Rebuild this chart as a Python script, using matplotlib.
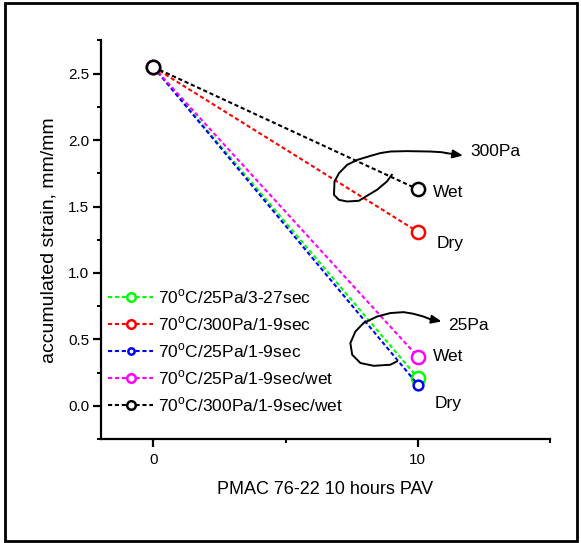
import matplotlib
matplotlib.use("Agg")
import matplotlib.pyplot as plt
from matplotlib.patches import Rectangle

plt.rcParams['font.family'] = ['Liberation Sans', 'DejaVu Sans']
plt.rcParams['mathtext.fontset'] = 'custom'
plt.rcParams['mathtext.rm'] = 'Liberation Sans'

# data
hours = [0, 10]
s_25pa_3_27 = [2.55, 0.21]
s_300pa_1_9 = [2.55, 1.31]
s_25pa_1_9 = [2.55, 0.16]
s_25pa_1_9_wet = [2.55, 0.37]
s_300pa_1_9_wet = [2.55, 1.63]

labels = ['70$^\\mathrm{o}$C/25Pa/3-27sec',
          '70$^\\mathrm{o}$C/300Pa/1-9sec',
          '70$^\\mathrm{o}$C/25Pa/1-9sec',
          '70$^\\mathrm{o}$C/25Pa/1-9sec/wet',
          '70$^\\mathrm{o}$C/300Pa/1-9sec/wet']
colors = ['#00ff00', '#ff0000', '#0000ff', '#ff00ff', '#000000']
series = [s_25pa_3_27, s_300pa_1_9, s_25pa_1_9, s_25pa_1_9_wet, s_300pa_1_9_wet]
msizes = [9.5, 9.5, 7, 9.5, 9.5]

# hand-drawn loops (data coords)
loop300_x = [9.02, 8.83, 8.46, 8.08, 7.77, 7.33, 7.02, 6.83, 6.85, 7.02, 7.33,
             7.71, 8.21, 8.58, 8.96, 9.59, 10.46, 10.90, 11.09]
loop300_y = [1.739, 1.688, 1.626, 1.581, 1.543, 1.538, 1.550, 1.588, 1.688, 1.751,
             1.814, 1.851, 1.881, 1.902, 1.914, 1.917, 1.914, 1.909, 1.902]
loop25_x = [9.21, 8.96, 8.33, 7.83, 7.52, 7.45, 7.64, 7.95, 8.46, 8.96, 9.46,
            9.83, 10.21, 10.46]
loop25_y = [0.334, 0.309, 0.301, 0.322, 0.384, 0.472, 0.559, 0.623, 0.672, 0.698,
            0.705, 0.693, 0.672, 0.653]
tip300 = (11.71, 1.884)
tip25 = (10.90, 0.635)

notes = [('300Pa', 11.98, 1.914), ('Wet', 10.56, 1.603), ('Dry', 10.71, 1.219),
         ('25Pa', 11.15, 0.602), ('Wet', 10.56, 0.369), ('Dry', 10.64, 0.021)]

fig = plt.figure(figsize=(5.81, 5.43), dpi=100)
ax = fig.add_axes([0.173, 0.1915, 0.7736, 0.734])

for ys, c, lab, ms in zip(series, colors, labels, msizes):
    ax.plot(hours, ys, color=c, lw=1.5, dashes=(2, 1.3), marker='o', ms=ms,
            mfc='white', mec=c, mew=1.8, label=lab)

ax.plot(loop300_x, loop300_y, color='black', lw=1.4)
ax.plot(loop25_x, loop25_y, color='black', lw=1.4)
ax.annotate('', xy=tip300, xytext=(loop300_x[-1], loop300_y[-1]),
            arrowprops=dict(arrowstyle='-|>,head_length=0.6,head_width=0.25',
                            color='black', lw=1.4, shrinkA=0, shrinkB=0))
ax.annotate('', xy=tip25, xytext=(loop25_x[-1], loop25_y[-1]),
            arrowprops=dict(arrowstyle='-|>,head_length=0.6,head_width=0.25',
                            color='black', lw=1.4, shrinkA=0, shrinkB=0))

for txt, x, y in notes:
    ax.text(x, y, txt, fontsize=12.5, ha='left', va='center')

ax.set_xlim(-2, 15)
ax.set_ylim(-0.25, 2.75)
ax.set_xticks([0, 10])
ax.set_xticks([5, 15], minor=True)
ax.set_yticks([0.0, 0.5, 1.0, 1.5, 2.0, 2.5])
ax.set_yticklabels(['0.0', '0.5', '1.0', '1.5', '2.0', '2.5'])
ax.set_yticks([-0.25, 0.25, 0.75, 1.25, 1.75, 2.25, 2.75], minor=True)

for s in ['top', 'right']:
    ax.spines[s].set_visible(False)
for s in ['left', 'bottom']:
    ax.spines[s].set_linewidth(1.6)

ax.tick_params(which='major', direction='out', length=6, width=1.6, labelsize=11)
ax.tick_params(which='minor', direction='out', length=3, width=1.4)
ax.tick_params(axis='y', pad=2)
ax.tick_params(axis='x', pad=4)

ax.set_xlabel('PMAC 76-22 10 hours PAV', fontsize=13, labelpad=10)
ax.set_ylabel('accumulated strain, mm/mm', fontsize=14, labelpad=8)

ax.legend(loc='upper left', bbox_to_anchor=(0.0167, 0.38), frameon=False,
          fontsize=12.5, handlelength=2.6, handletextpad=0.3, labelspacing=0.48,
          borderaxespad=0, borderpad=0, markerscale=0.65, numpoints=1)

fig.patches.append(Rectangle((0.008, 0.003), 0.985, 0.992, transform=fig.transFigure,
                             fill=False, edgecolor='black', lw=2))

fig.savefig('out.png', dpi=100)
